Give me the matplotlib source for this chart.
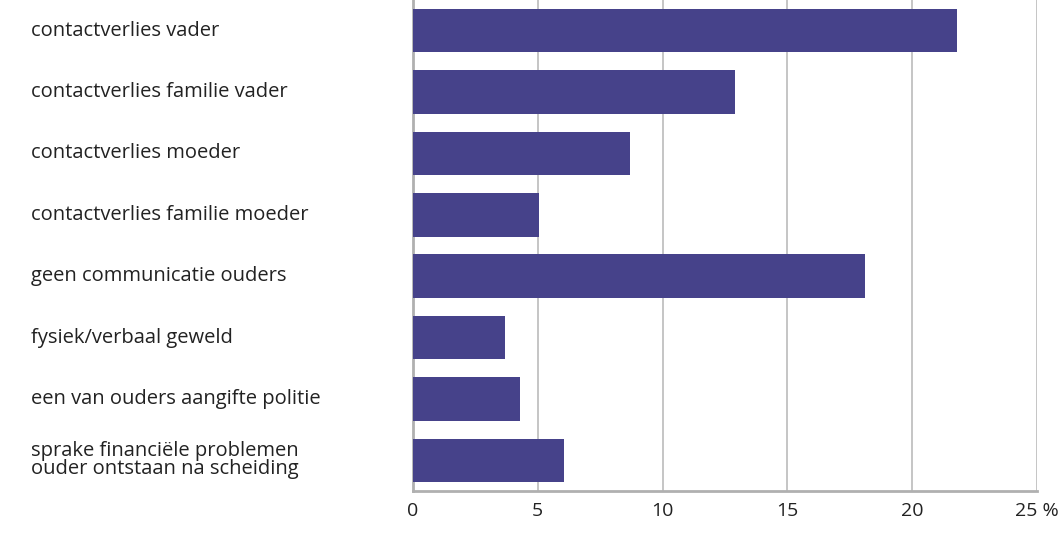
import matplotlib.pyplot as plt
import matplotlib.transforms as mtransforms

# categories top to bottom, values in percent
labels = ['contactverlies vader',
          'contactverlies familie vader',
          'contactverlies moeder',
          'contactverlies familie moeder',
          'geen communicatie ouders',
          'fysiek/verbaal geweld',
          'een van ouders aangifte politie',
          'sprake financiële problemen\nouder ontstaan na scheiding']
values = [21.8, 12.9, 8.7, 5.05, 18.1, 3.7, 4.3, 6.05]
xticks = [0, 5, 10, 15, 20, 25]
xticklabels = ['0', '5', '10', '15', '20', '25 %']

plt.rcParams['font.family'] = ['Open Sans', 'DejaVu Sans']

fig = plt.figure(figsize=(10.6, 5.33), dpi=100)
ax = fig.add_axes([413 / 1060, 42 / 533, 624 / 1060, 491 / 533])

pos = list(range(len(labels)))
ax.barh(pos, values, height=0.71, color='#46428a', zorder=3)

ax.set_ylim(len(labels) - 0.5, -0.5)
ax.set_xlim(0, 25)
ax.set_xticks(xticks)
ax.set_xticklabels(xticklabels, fontsize=14, color='#222222')
ax.tick_params(axis='x', length=0, pad=8)
ax.set_yticks([])
ax.grid(axis='x', color='#bbbbbb', linewidth=1.2, zorder=0)

for side in ['top', 'right']:
    ax.spines[side].set_visible(False)
ax.spines['left'].set_color('#b0b0b0')
ax.spines['left'].set_linewidth(2)
ax.spines['bottom'].set_color('#b0b0b0')
ax.spines['bottom'].set_linewidth(2)

# category labels left aligned at fixed figure position
trans = mtransforms.blended_transform_factory(fig.transFigure, ax.transData)
for p, lab in zip(pos, labels):
    ax.text(31 / 1060, p, lab, transform=trans, ha='left', va='center',
            fontsize=14.5, color='#222222', linespacing=0.85)

fig.savefig('out.png', dpi=100)
